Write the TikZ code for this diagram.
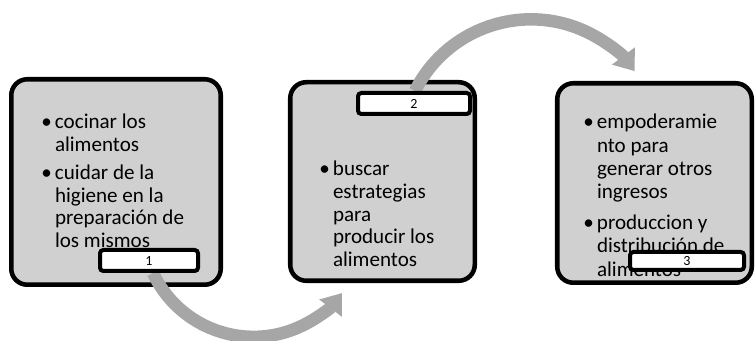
\documentclass[tikz,border=0pt]{standalone}
\usepackage{fontspec}
\setmainfont{Carlito}
\usetikzlibrary{arrows.meta,calc}
\definecolor{boxfill}{HTML}{D0D0D0}
\definecolor{arrowgray}{HTML}{A6A6A6}
\tikzset{
  stagebox/.style={draw=black, fill=boxfill, line width=3.4pt, rounded corners=12pt, inner sep=0pt},
  tagbox/.style={draw=black, fill=white, line width=3pt, rounded corners=2.5pt, inner sep=0pt, font=\fontsize{10.5pt}{11pt}\selectfont},
  bodytext/.style={anchor=base west, inner sep=0pt, outer sep=0pt, align=left},
  flowarrow/.style={draw=arrowgray, line width=9.4pt, -{Triangle[length=14.25pt, width=20.5pt]}, arrowgray}
}
\newcommand{\bul}{\makebox[12.45pt]{•}}
\begin{document}
\begin{tikzpicture}[x=0.75pt, y=0.75pt]
\useasboundingbox (0,0) rectangle (755,341);
% stage boxes
\node[stagebox, minimum width=157.1pt, minimum height=154.1pt] (b1) at (116,159) {};
\node[stagebox, minimum width=138.4pt, minimum height=148.9pt] (b2) at (382.5,159.5) {};
\node[stagebox, minimum width=145.9pt, minimum height=149.6pt] (b3) at (654.5,158) {};
% texts
\node[bodytext, font=\fontsize{15.8pt}{16.9pt}\selectfont] (t1) at (38.4,212.5)
 {\begin{tabular}[t]{@{}l@{}l@{}}
 \bul & cocinar los\\
      & alimentos\\[4.5pt]
 \bul & cuidar de la\\
      & higiene en la\\
      & preparación de\\
      & los mismos
 \end{tabular}};
\node[bodytext, font=\fontsize{15.8pt}{16.9pt}\selectfont] (t2) at (316.4,165)
 {\begin{tabular}[t]{@{}l@{}l@{}}
 \bul & buscar\\
      & estrategias\\
      & para\\
      & producir los\\
      & alimentos
 \end{tabular}};
\node[bodytext, font=\fontsize{15.8pt}{17.4pt}\selectfont] (t3) at (580.4,212)
 {\begin{tabular}[t]{@{}l@{}l@{}}
 \bul & empoderamie\\
      & nto para\\
      & generar otros\\
      & ingresos\\[6pt]
 \bul & produccion y\\
      & distribución de\\
      & alimentos
 \end{tabular}};
% tag centres and arrow starts
\path (149,80.5) coordinate (l1c) (414,237.5) coordinate (l2c);
\coordinate (a1s) at ($(l1c)+(4,-12.5)$);
\coordinate (a2s) at ($(l2c)+(1,12.5)$);
% arrows
\draw[flowarrow] (a1s) arc[start angle=205.2, end angle=322.7, radius=83.4pt];
\draw[flowarrow] (a2s) arc[start angle=153.4, end angle=36.9, radius=97.3pt];
% tags
\node[tagbox, minimum width=73.5pt, minimum height=15.75pt] (l1) at (l1c) {1};
\node[tagbox, minimum width=84pt, minimum height=15.75pt] (l2) at (l2c) {2};
\node[tagbox, minimum width=85.5pt, minimum height=13.5pt] (l3) at (687,80) {3};
\end{tikzpicture}
\end{document}
